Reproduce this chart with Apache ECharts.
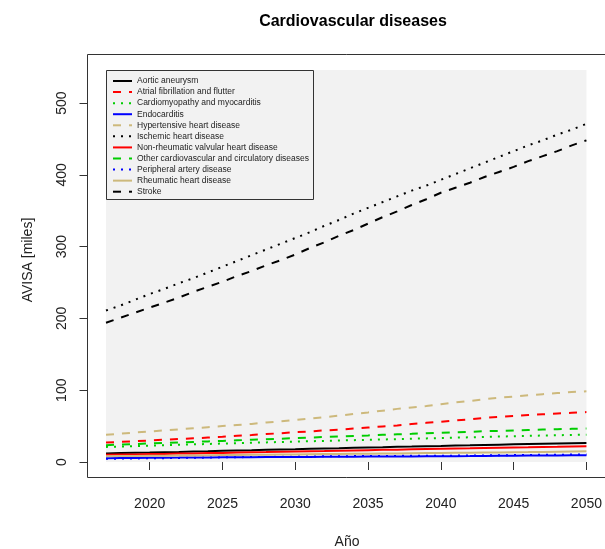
<!DOCTYPE html>
<html><head><meta charset="utf-8">
<script src="https://cdn.jsdelivr.net/npm/echarts@6/dist/echarts.min.js"></script>
<style>html,body{margin:0;padding:0;background:#fff}#c{width:605px;height:549px}</style>
</head><body><div id="c"></div>
<script>
// ---------- data ----------
const years = [2017,2018,2019,2020,2021,2022,2023,2024,2025,2026,2027,2028,2029,2030,2031,2032,2033,2034,2035,2036,2037,2038,2039,2040,2041,2042,2043,2044,2045,2046,2047,2048,2049,2050];
const seriesNames = ["Aortic aneurysm","Atrial fibrillation and flutter","Cardiomyopathy and myocarditis","Endocarditis","Hypertensive heart disease","Ischemic heart disease","Non-rheumatic valvular heart disease","Other cardiovascular and circulatory diseases","Peripheral artery disease","Rheumatic heart disease","Stroke"];
const aortic = [12,12.4,12.8,13.2,13.7,14.1,14.6,15,15.5,16,16.4,16.9,17.4,17.8,18.3,18.8,19.2,19.7,20.2,20.6,21.1,21.5,22,22.4,22.9,23.3,23.8,24.2,24.6,25,25.4,25.8,26.2,26.6];
const atrial = [27,28,29,30,31,32,33,34,35,36.5,37.5,39,40,41.5,42.5,44,45,46.5,48,49.5,51,53,54.5,56,58,59.5,61.5,63,64,65.5,66.5,67.5,68.5,69.5];
const cardiomyopathy = [21,21.6,22.2,22.8,23.4,24,24.6,25.1,25.7,26.2,26.8,27.3,27.9,28.4,28.9,29.4,29.9,30.4,30.9,31.4,31.9,32.4,32.9,33.4,33.9,34.4,34.9,35.4,35.9,36.4,36.9,37.3,37.7,38.1];
const endocarditis = [5.2,5.4,5.6,5.8,6,6.1,6.3,6.4,6.5,6.6,6.7,6.8,6.9,7,7.1,7.2,7.3,7.4,7.5,7.6,7.7,7.8,7.9,8,8.1,8.2,8.4,8.6,8.8,9,9.1,9.2,9.3,9.4];
const hypertensive = [38,39.5,41,42.5,44,45.5,47,48.5,50,51.5,53,55,56.5,58.5,60.5,62.5,64.5,67,69,71.5,74,76,78,80.5,83,85,87.5,89.5,91,93,94.5,96,97.5,98.5];
const ischemic = [211,218,226,234,241,249,256,264,272,280,288,296,304,312,320,329,337,346,354,362,370,378,385,393,401,409,417,425,433,441,448,456,463,471];
const nonRheumatic = [10,10.3,10.6,11,11.3,11.7,12,12.4,12.7,13.1,13.5,13.8,14.2,14.6,15,15.3,15.7,16.1,16.5,16.9,17.2,17.6,18,18.4,18.8,19.1,19.5,19.9,20.3,20.6,21,21.3,21.7,22];
const otherCV = [23.5,24.2,25,25.8,26.5,27.2,28,28.7,29.4,30.2,31,31.8,32.5,33.2,34,34.8,35.5,36.3,37,37.8,38.5,39.2,40,40.7,41.4,42.1,42.8,43.4,44,44.6,45.2,45.7,46.2,46.6];
const peripheral = [4.4,4.7,5,5.2,5.4,5.6,5.9,6.2,6.5,6.7,6.9,7.1,7.3,7.5,7.7,7.9,8,8.2,8.3,8.4,8.5,8.6,8.7,8.8,8.9,9,9.2,9.4,9.6,9.8,10,10.1,10.3,10.4];
const rheumatic = [8,8.2,8.4,8.6,8.8,9,9.2,9.4,9.6,9.8,10,10.2,10.4,10.6,10.8,11,11.2,11.4,11.6,11.8,12,12.2,12.4,12.6,12.8,13,13.2,13.4,13.6,13.8,14.1,14.4,14.7,15];
const stroke = [194,201,208,215,222,229,237,244,251,259,266,274,281,289,298,306,315,323,332,341,349,358,366,375,382,389,397,404,411,419,426,433,441,448];
const xTickLabels = [2020,2025,2030,2035,2040,2045,2050];
const yTickLabels = [0,100,200,300,400,500];
const titleText = "Cardiovascular diseases";
const xName = "Año";
const yName = "AVISA [miles]";

// ---------- styles ----------
const seriesValues = [aortic, atrial, cardiomyopathy, endocarditis, hypertensive, ischemic, nonRheumatic, otherCV, peripheral, rheumatic, stroke];
const palette = ['#000000','#FF0000','#00CD00','#0000FF','#CDB97C'];
const dashTypes = ['solid',[8,8],[2,6]];
const FONT = '"Liberation Sans", Arial, sans-serif';
const AX = '#333';

const series = seriesNames.map((name, i) => ({
  name: name,
  type: 'line',
  data: years.map((y, k) => [y, seriesValues[i][k]]),
  symbol: 'none',
  showSymbol: false,
  silent: true,
  animation: false,
  lineStyle: { color: palette[i % 5], width: 2, type: dashTypes[i % 3] },
  z: 2 + i * 0.01
}));

// legend drawn with graphic elements
const legendX = 106, legendY = 70, legendW = 207, legendH = 129;
const legendItems = [];
legendItems.push({ type: 'rect', shape: { x: legendX + 0.5, y: legendY + 0.5, width: legendW, height: legendH },
  style: { fill: 'none', stroke: AX, lineWidth: 1 }, z: 10 });
seriesNames.forEach((name, i) => {
  const cy = 81 + 11.07 * i;
  const dt = dashTypes[i % 3];
  legendItems.push({ type: 'line', shape: { x1: 113, y1: cy, x2: 132, y2: cy },
    style: { stroke: palette[i % 5], lineWidth: 2, lineDash: dt === 'solid' ? null : dt }, z: 10 });
  legendItems.push({ type: 'text', x: 137, y: cy,
    style: { text: name, fill: '#222', font: '8.5px ' + FONT, textVerticalAlign: 'middle', textAlign: 'left' }, z: 10 });
});

const chart = echarts.init(document.getElementById('c'), null, { renderer: 'canvas' });
chart.setOption({
  animation: false,
  backgroundColor: '#ffffff',
  title: { text: titleText, left: 348, top: 9, textAlign: 'center',
    textStyle: { fontSize: 16, fontWeight: 'bold', fontFamily: FONT, color: '#000' } },
  grid: { left: 106, top: 70, width: 482, height: 392, show: true, backgroundColor: '#F2F2F2', borderWidth: 0 },
  xAxis: {
    type: 'value', min: 2017, max: 2050, offset: 16,
    axisLine: { show: false },
    splitLine: { show: false },
    axisTick: { show: true, length: 8, lineStyle: { color: AX }, customValues: xTickLabels },
    axisLabel: { customValues: xTickLabels, formatter: v => String(v), fontSize: 14, fontFamily: FONT, color: '#222', margin: 19 }
  },
  yAxis: {
    type: 'value', min: 0, max: 546, offset: 18.5,
    axisLine: { show: false },
    splitLine: { show: false },
    axisTick: { show: true, length: 8, lineStyle: { color: AX }, customValues: yTickLabels },
    axisLabel: { customValues: yTickLabels, rotate: 90, fontSize: 14, fontFamily: FONT, color: '#222', margin: 18 }
  },
  series: series,
  graphic: [
    { type: 'rect', shape: { x: 87.5, y: 54.5, width: 520, height: 423 }, style: { fill: 'none', stroke: AX, lineWidth: 1 }, z: 5, silent: true },
    { type: 'text', x: 347, y: 542, style: { text: xName, font: '14px ' + FONT, fill: '#222', textAlign: 'center', textVerticalAlign: 'middle' } },
    { type: 'text', x: 28, y: 260, rotation: Math.PI / 2, style: { text: yName, font: '14px ' + FONT, fill: '#222', textAlign: 'center', textVerticalAlign: 'middle' } },
    { type: 'group', children: legendItems }
  ]
});
</script>
</body></html>
